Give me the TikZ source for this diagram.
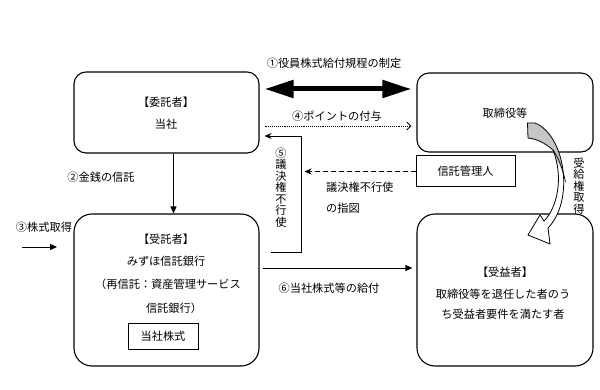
\documentclass[tikz,border=0pt]{standalone}
\usepackage{fontspec}
\setmainfont{Noto Sans CJK JP}
\usetikzlibrary{arrows.meta}
\begin{document}
\begin{tikzpicture}[x=1pt,y=-1pt,
  txt/.style={inner sep=0, font=\fontsize{11.2}{13}\selectfont},
  vtxt/.style={inner sep=0, align=center, font=\fontsize{11.2}{11.5}\selectfont},
  rboxs/.style={draw, line width=1.1pt, rounded corners=12pt, inner sep=0},
  rboxl/.style={draw, line width=1.1pt, rounded corners=18pt, inner sep=0},
  sqbox/.style={draw, line width=1pt, inner sep=0},
  conn/.style={line width=0.9pt},
  tri/.style={-{Triangle[length=7pt,width=6pt]}},
  stl/.style={-{Stealth[length=7pt,width=6pt]}},
  bigarrow/.style={line width=5pt, {Triangle[length=29pt,width=17pt]}-{Triangle[length=29pt,width=17pt]}}
]
\useasboundingbox (0,0) rectangle (600,390);

% boxes
\node[rboxs, minimum width=185pt, minimum height=81pt] (itaku) at (166.5,112.5) {};
\node[rboxs, minimum width=176pt, minimum height=79pt] (tori) at (505,112.5) {};
\node[rboxl, minimum width=185pt, minimum height=152pt] (jutaku) at (166.5,290) {};
\node[rboxl, minimum width=176pt, minimum height=152pt] (jueki) at (505,290) {};
\node[sqbox, minimum width=99pt, minimum height=31pt, txt] (kanri) at (465.5,171.5) {信託管理人};
\node[sqbox, minimum width=70pt, minimum height=26pt, txt] (kabu) at (163,336) {当社株式};

% box texts
\node[txt] (t1a) at (166,102) {【委託者】};
\node[txt] (t1b) at (166,124) {当社};
\node[txt] (t2a) at (505,113) {取締役等};
\node[txt] (t3a) at (166,239) {【受託者】};
\node[txt] (t3b) at (166,261) {みずほ信託銀行};
\node[txt] (t3c) at (168,284) {（再信託：資産管理サービス};
\node[txt] (t3d) at (174,308) {信託銀行）};
\node[txt] (t4a) at (505,272) {【受益者】};
\node[txt] (t4b) at (503,294) {取締役等を退任した者のう};
\node[txt] (t4c) at (503,314) {ち受益者要件を満たす者};

% labels
\node[txt] (l1) at (334,63) {①役員株式給付規程の制定};
\node[txt] (l4) at (337,116) {④ポイントの付与};
\node[vtxt] (l5) at (281,187.5) {⑤\\議\\決\\権\\不\\行\\使};
\node[txt, anchor=west] (l5a) at (326,187) {議決権不行使};
\node[txt, anchor=west] (l5b) at (326,208) {の指図};
\node[txt] (l2) at (101,177) {②金銭の信託};
\node[txt] (l3) at (44,227) {③株式取得};
\node[txt] (l6) at (329,288) {⑥当社株式等の給付};
\node[vtxt] (lr) at (579,186) {受\\給\\権\\取\\得};

% connectors
\draw[bigarrow] ([xshift=5pt]itaku.east |- 0,89) -- ([xshift=-5pt]tori.west |- 0,89);
\draw[conn, densely dotted, -{Straight Barb[length=4pt,width=8pt]}] ([xshift=5pt]itaku.east |- 0,126) -- ([xshift=-5pt]tori.west |- 0,126);
\draw[conn, stl] ([xshift=11pt]jutaku.east |- 0,252) -- ++(31,0) |- ([xshift=5pt]itaku.east |- 0,136);
\draw[conn, dash pattern=on 5pt off 3pt, stl] (kanri.west) -- ++(-111,0);
\draw[conn, tri] ([xshift=7pt]itaku.south) -- ([xshift=7pt]jutaku.north);
\coordinate (s3a) at (22,247);
\coordinate (s3b) at (57,247);
\draw[conn, tri] (s3a) -- (s3b);
\draw[conn, tri] ([xshift=3pt]jutaku.east |- 0,268) -- ([xshift=-4pt]jueki.west |- 0,268);

% curved block arrow
\def\ribbon{(527.5,123) -- (535,123) .. controls (565,135) and (575,200) .. (548,228)
  -- (550,244) -- (528,235) -- (540,215) -- (544,221)
  .. controls (557,208) and (564,178) .. (553,150)
  .. controls (545,143) and (537,139) .. (528,138) -- cycle}
\fill[white] \ribbon;
\begin{scope}
  \clip \ribbon;
  \fill[gray!45] (528,138) .. controls (545,142) and (560,158) .. (566,184) -- (585,184) -- (585,110) -- (520,110) -- (520,138) -- cycle;
\end{scope}
\draw[line width=0.7pt] (553,150) .. controls (559,158) and (563,170) .. (565.5,182);
\draw[line width=0.8pt, line join=round] \ribbon;
\end{tikzpicture}
\end{document}
